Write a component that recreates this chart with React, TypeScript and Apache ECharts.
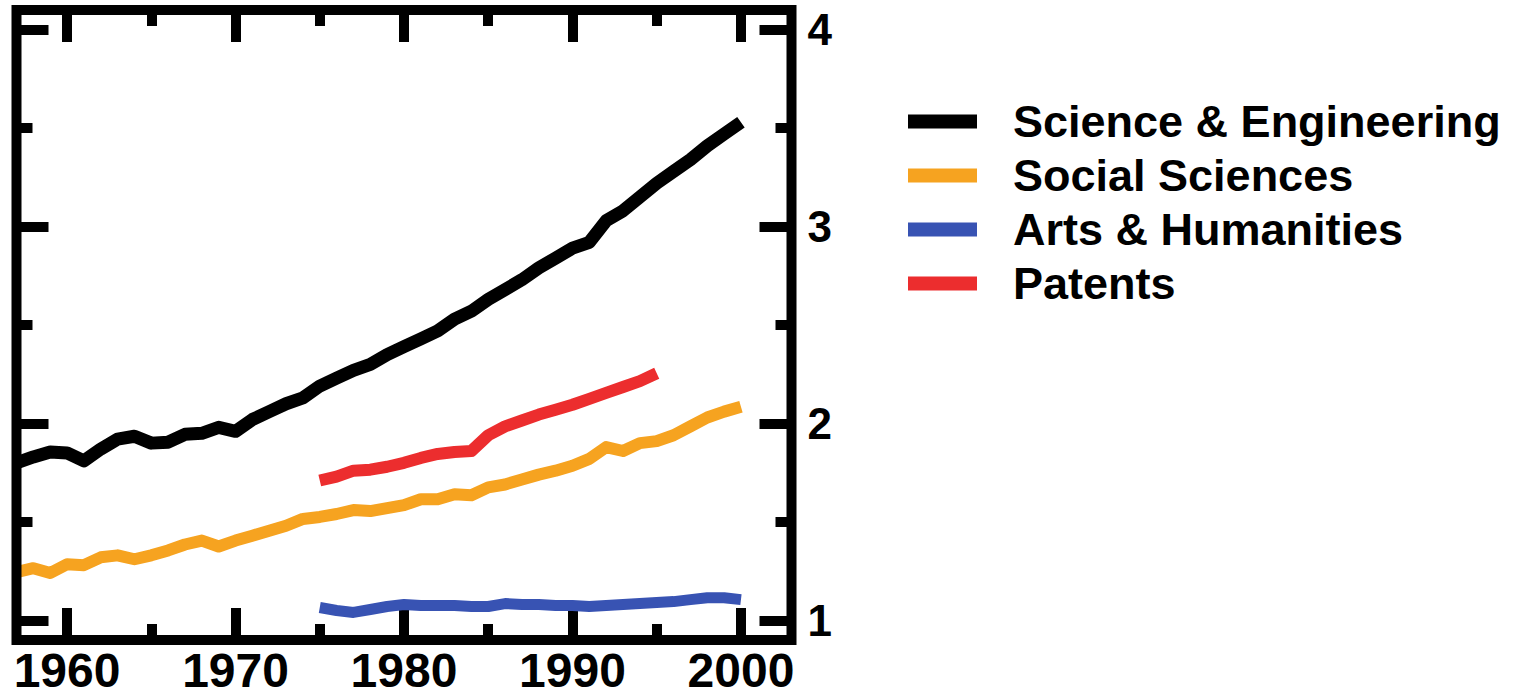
import React, { useEffect, useRef } from "react";
import * as echarts from "echarts";

const seriesNames = ["Science & Engineering", "Social Sciences", "Arts & Humanities", "Patents"];
const seriesColors = ["#000000", "#F6A320", "#3853B3", "#EC2D2E"];

const allYears = [
  1957, 1958, 1959, 1960, 1961, 1962, 1963, 1964, 1965, 1966,
  1967, 1968, 1969, 1970, 1971, 1972, 1973, 1974, 1975, 1976,
  1977, 1978, 1979, 1980, 1981, 1982, 1983, 1984, 1985, 1986,
  1987, 1988, 1989, 1990, 1991, 1992, 1993, 1994, 1995, 1996,
  1997, 1998, 1999, 2000,
];
const scienceEng = [
  1.80, 1.83, 1.855, 1.85, 1.81, 1.87, 1.92, 1.935, 1.90, 1.905,
  1.945, 1.95, 1.98, 1.96, 2.02, 2.06, 2.10, 2.13, 2.19, 2.23,
  2.27, 2.30, 2.35, 2.39, 2.43, 2.47, 2.53, 2.57, 2.63, 2.68,
  2.73, 2.79, 2.84, 2.89, 2.92, 3.03, 3.08, 3.15, 3.22, 3.28,
  3.34, 3.41, 3.47, 3.53,
];
const socialSci = [
  1.245, 1.265, 1.24, 1.285, 1.28, 1.32, 1.33, 1.31, 1.33, 1.355,
  1.385, 1.405, 1.375, 1.405, 1.43, 1.455, 1.48, 1.515, 1.525, 1.54,
  1.56, 1.555, 1.57, 1.585, 1.615, 1.615, 1.64, 1.635, 1.675, 1.69,
  1.715, 1.74, 1.76, 1.785, 1.82, 1.88, 1.86, 1.90, 1.91, 1.94,
  1.985, 2.03, 2.06, 2.085,
];
const artsYears = [
  1975, 1976, 1977, 1978, 1979, 1980, 1981, 1982, 1983, 1984,
  1985, 1986, 1987, 1988, 1989, 1990, 1991, 1992, 1993, 1994,
  1995, 1996, 1997, 1998, 1999, 2000,
];
const artsHum = [
  1.065, 1.05, 1.04, 1.055, 1.07, 1.08, 1.075, 1.075, 1.075, 1.07,
  1.07, 1.085, 1.08, 1.08, 1.075, 1.075, 1.07, 1.075, 1.08, 1.085,
  1.09, 1.095, 1.105, 1.115, 1.115, 1.105,
];
const patentYears = [
  1975, 1976, 1977, 1978, 1979, 1980, 1981, 1982, 1983, 1984,
  1985, 1986, 1987, 1988, 1989, 1990, 1991, 1992, 1993, 1994, 1995,
];
const patents = [
  1.71, 1.73, 1.76, 1.765, 1.78, 1.80, 1.825, 1.845, 1.855, 1.86,
  1.94, 1.985, 2.015, 2.045, 2.07, 2.095, 2.125, 2.155, 2.185, 2.215, 2.255,
];

const xMajorTicks = [1960, 1970, 1980, 1990, 2000];
const xMinorTicks = [1965, 1975, 1985, 1995];
const yMajorTicks = [1, 2, 3, 4];
const yMinorTicks = [1.5, 2.5, 3.5];
const xMin = 1957;
const xMax = 2003;
const yMin = 0.9;
const yMax = 4.1;

const FONT = "'Liberation Sans', Arial, Helvetica, sans-serif";

const zip = (xs: number[], ys: number[]) => xs.map((x, i) => [x, ys[i]]);

export default function App() {
  const ref = useRef<HTMLDivElement>(null);

  useEffect(() => {
    if (!ref.current) return;
    const chart = echarts.init(ref.current, undefined, { renderer: "svg" });

    const G = { left: 16.5, top: 10, width: 775, height: 630 };

    const xAxisBase = (position: string, ticks: number[], len: number, label: boolean) => ({
      type: "value",
      position,
      min: xMin,
      max: xMax,
      axisLine: { show: false },
      splitLine: { show: false },
      axisTick: {
        show: true,
        inside: true,
        length: len,
        customValues: ticks,
        lineStyle: { color: "#000", width: 10 },
      },
      axisLabel: label
        ? {
            show: true,
            customValues: ticks,
            formatter: (v: number) => String(v),
            color: "#000",
            fontSize: 48,
            fontWeight: "bold",
            fontFamily: FONT,
            margin: 6,
          }
        : { show: false },
    });

    const yAxisBase = (position: string, ticks: number[], len: number, label: boolean) => ({
      type: "value",
      position,
      min: yMin,
      max: yMax,
      axisLine: { show: false },
      splitLine: { show: false },
      axisTick: {
        show: true,
        inside: true,
        length: len,
        customValues: ticks,
        lineStyle: { color: "#000", width: 10 },
      },
      axisLabel: label
        ? {
            show: true,
            customValues: ticks,
            formatter: (v: number) => String(v),
            color: "#000",
            fontSize: 44,
            fontWeight: "bold",
            fontFamily: FONT,
            margin: 16,
          }
        : { show: false },
    });

    const lineSeries = (name: string, color: string, data: number[][], width: number) => ({
      name,
      type: "line",
      data,
      showSymbol: false,
      symbol: "none",
      xAxisIndex: 0,
      yAxisIndex: 0,
      lineStyle: { color, width, join: "round", cap: "butt" },
      itemStyle: { color },
      emphasis: { disabled: true },
      silent: true,
    });

    chart.setOption({
      animation: false,
      grid: { ...G, show: false },
      xAxis: [
        xAxisBase("bottom", xMajorTicks, 32, true),
        xAxisBase("bottom", xMinorTicks, 16, false),
        xAxisBase("top", xMajorTicks, 32, false),
        xAxisBase("top", xMinorTicks, 16, false),
      ],
      yAxis: [
        yAxisBase("right", yMajorTicks, 32, true),
        yAxisBase("right", yMinorTicks, 16, false),
        yAxisBase("left", yMajorTicks, 32, false),
        yAxisBase("left", yMinorTicks, 16, false),
      ],
      legend: {
        orient: "vertical",
        left: 908,
        top: 99,
        padding: 0,
        itemWidth: 69,
        itemHeight: 14,
        itemGap: 9,
        icon: "rect",
        selectedMode: false,
        data: seriesNames,
        textStyle: {
          color: "#000",
          fontSize: 45,
          fontWeight: "bold",
          fontFamily: FONT,
          padding: [0, 0, 0, 31],
        },
      },
      graphic: [
        {
          type: "rect",
          z: 100,
          silent: true,
          shape: { x: G.left, y: G.top, width: G.width, height: G.height },
          style: { fill: "none", stroke: "#000", lineWidth: 10 },
        },
      ],
      series: [
        lineSeries(seriesNames[0], seriesColors[0], zip(allYears, scienceEng), 13),
        lineSeries(seriesNames[1], seriesColors[1], zip(allYears, socialSci), 12),
        lineSeries(seriesNames[2], seriesColors[2], zip(artsYears, artsHum), 11),
        lineSeries(seriesNames[3], seriesColors[3], zip(patentYears, patents), 12),
      ],
    });

    return () => chart.dispose();
  }, []);

  return (
    <div
      ref={ref}
      style={{ position: "absolute", left: 0, top: 0, width: 1516, height: 699, background: "#fff" }}
    />
  );
}
